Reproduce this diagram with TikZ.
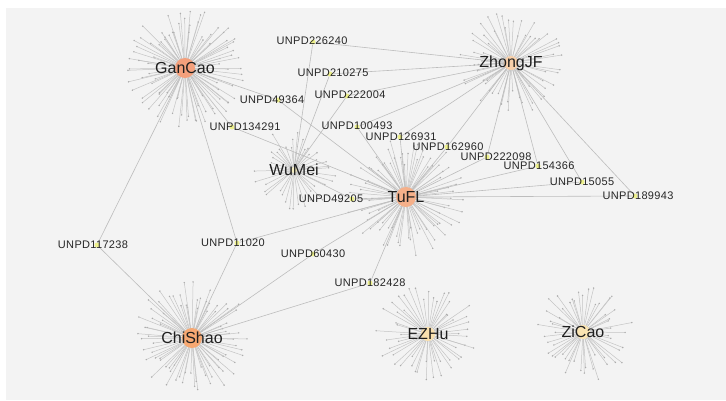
\documentclass[tikz,border=0pt]{standalone}
\usepackage{fontspec}
\setmainfont{Liberation Sans}
\usetikzlibrary{backgrounds}
\definecolor{panel}{HTML}{F3F3F3}
\definecolor{ganc}{HTML}{F4A07C}
\definecolor{chis}{HTML}{F6A872}
\definecolor{tufl}{HTML}{F5B08A}
\definecolor{zhon}{HTML}{F8D0AA}
\definecolor{ezhu}{HTML}{F9E0AE}
\definecolor{zica}{HTML}{FAE4B2}
\definecolor{wume}{HTML}{F4EDC0}
\definecolor{cpdyellow}{HTML}{EDF08C}
\definecolor{linkgray}{HTML}{BDBDBD}
\definecolor{spokegray}{HTML}{C4C4C4}
\definecolor{dotgray}{HTML}{ABABAB}
\tikzset{
  herb/.style={circle, inner sep=0pt, minimum size=#1},
  herbname/.style={font=\fontsize{16}{18}\selectfont, text=black!88, inner sep=0pt},
  cpd/.style={circle, fill=cpdyellow, inner sep=0pt, minimum size=5pt},
  cpdname/.style={font=\fontsize{11}{13}\selectfont\addfontfeature{LetterSpace=3}, text=black!85, inner sep=0pt},
  link/.style={draw=linkgray, line width=0.6pt},
  spoke/.style={draw=spokegray, line width=0.5pt},
  spokeend/.style={circle, fill=dotgray, inner sep=0pt, minimum size=1.6pt}
}
\begin{document}
\begin{tikzpicture}[x=1pt, y=-1pt]
\useasboundingbox (0, 0) rectangle (726, 400);

\node[herb=20pt, fill=ganc, label={[herbname]center:GanCao}] (GanCao) at (185, 68) {};
\node[herb=14pt, fill=zhon, label={[herbname]center:ZhongJF}] (ZhongJF) at (511, 63) {};
\node[herb=6pt, fill=wume, label={[herbname]center:WuMei}] (WuMei) at (294, 170) {};
\node[herb=20pt, fill=tufl, label={[herbname]center:TuFL}] (TuFL) at (406, 197) {};
\node[herb=20pt, fill=chis, label={[herbname]center:ChiShao}] (ChiShao) at (192, 338) {};
\node[herb=14pt, fill=ezhu, label={[herbname]center:EZHu}] (EZHu) at (428, 334) {};
\node[herb=14pt, fill=zica, label={[herbname]center:ZiCao}] (ZiCao) at (583, 332) {};

\foreach \id/\px/\py/\tx/\ty in {226240/313/42/312/41, 210275/330/74/333/73,
    222004/347/96/350/95, 49364/278/100/272/100, 134291/232/127/245/127,
    100493/357/127/357/126, 126931/400/137/401/137, 162960/447/147/448/147,
    222098/487/157/496/157, 154366/538/166/539/166, 15055/582/182/582/182,
    189943/635/196/638/196, 49205/352/199/331/199, 117238/97/245/93/245,
    11020/237/243/233/243, 60430/313/254/313/254, 182428/370/283/370/283}{
  \node[cpd] (p\id) at (\px, \py) {};
  \node[cpdname] (t\id) at (\tx, \ty) {UNPD\id};
}

\begin{scope}[on background layer]
  \fill[panel] (6, 8) rectangle (726, 400);
  \pgfmathsetseed{12}
  \foreach \h/\n/\r in {GanCao/90/60, ZhongJF/60/52, WuMei/40/42, TuFL/80/60,
      ChiShao/80/58, EZHu/52/52, ZiCao/52/50}{
    \foreach \i in {1,...,\n}{
      \pgfmathsetmacro{\ang}{\i/\n*360+4*rand}
      \pgfmathsetmacro{\len}{\r*(0.5+0.5*rnd)}
      \draw[spoke] (\h.center) -- ++(\ang:\len) node[spokeend] {};
    }
  }
  \foreach \a/\b in {GanCao/p49364, p49364/TuFL, GanCao/p134291, p134291/TuFL,
      GanCao/p117238, p117238/ChiShao, GanCao/p11020, p11020/ChiShao, p11020/TuFL,
      WuMei/p226240, p226240/ZhongJF, WuMei/p210275, p210275/ZhongJF,
      WuMei/p222004, p222004/ZhongJF, WuMei/p49205, p49205/TuFL,
      ZhongJF/p100493, p100493/TuFL, ZhongJF/p126931, p126931/TuFL,
      ZhongJF/p162960, p162960/TuFL, ZhongJF/p222098, p222098/TuFL,
      ZhongJF/p154366, p154366/TuFL, ZhongJF/p15055, p15055/TuFL,
      ZhongJF/p189943, p189943/TuFL, TuFL/p60430, p60430/ChiShao,
      TuFL/p182428, p182428/ChiShao}
    \draw[link] (\a) -- (\b);
\end{scope}

\end{tikzpicture}
\end{document}
